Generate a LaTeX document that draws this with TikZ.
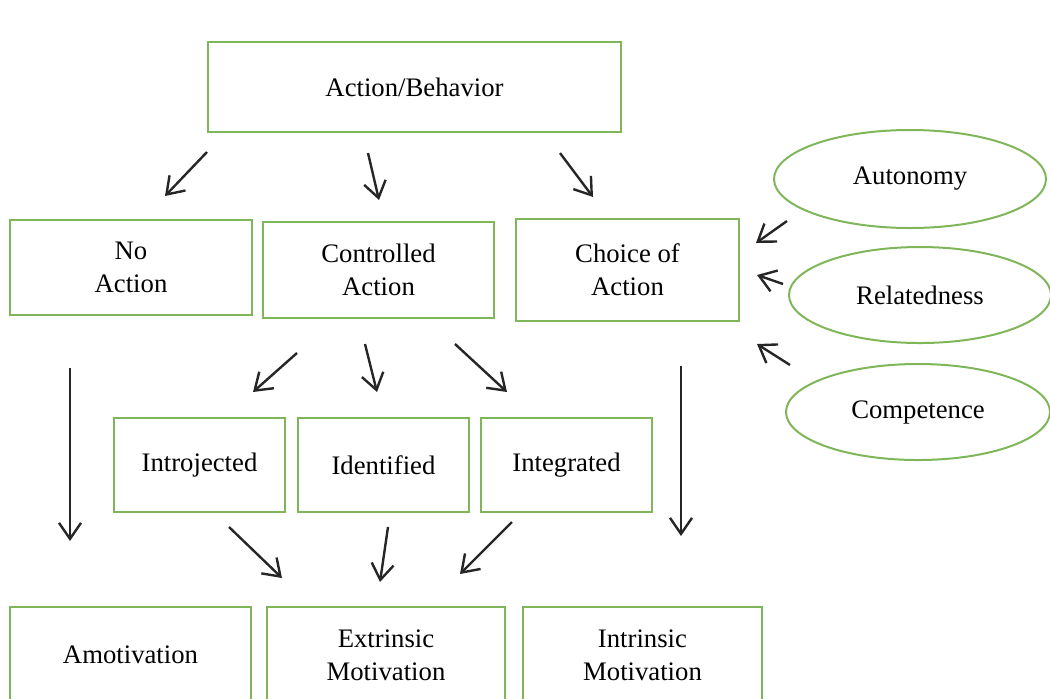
\documentclass[tikz,border=0pt]{standalone}
\usepackage{fontspec}
\setmainfont{Liberation Serif}
\usetikzlibrary{arrows.meta, shapes.geometric}
\definecolor{boxGreen}{RGB}{128,182,90}
\definecolor{arrowBlack}{gray}{0.15}

\begin{document}
\begin{tikzpicture}[x=0.25mm, y=-0.25mm,
    box/.style={draw=boxGreen, line width=0.5mm, inner sep=0pt, align=center,
        font=\fontsize{19}{23.5}\selectfont},
    oval/.style={box, ellipse},
    arr/.style={arrowBlack, line width=0.6mm, -{Straight Barb[length=4mm, width=5.5mm]}}]
    \useasboundingbox (0,0) rectangle (1050,698);

    % top box
    \node[box, minimum width=103.25mm, minimum height=22.5mm] (act) at (414.5,87) {Action/Behavior};

    % first level
    \node[box, minimum width=60.5mm, minimum height=23.75mm] (noact) at (131,267.5) {No\\Action};
    \node[box, minimum width=57.75mm, minimum height=24mm] (ctrl) at (378.5,270) {Controlled\\Action};
    \node[box, minimum width=55.75mm, minimum height=25.5mm] (choice) at (627.5,270) {Choice of\\Action};

    % needs
    \node[oval, minimum width=68mm, minimum height=24.5mm] (auton) at (910,179) {Autonomy};
    \node[oval, minimum width=65.5mm, minimum height=24mm] (relat) at (920,295) {Relatedness};
    \node[oval, minimum width=66mm, minimum height=24mm] (compet) at (918,412) {Competence};

    % regulation types
    \node[box, minimum width=42.75mm, minimum height=23.5mm] (introj) at (199.5,465) {Introjected};
    \node[box, minimum width=42.75mm, minimum height=23.5mm] (ident) at (383.5,465) {Identified};
    \node[box, minimum width=42.75mm, minimum height=23.5mm] (integ) at (566.5,465) {Integrated};

    % outcomes
    \node[box, minimum width=60.25mm, minimum height=24mm] (amot) at (130.5,655) {Amotivation};
    \node[box, minimum width=59.5mm, minimum height=24mm] (extr) at (386,655) {Extrinsic\\Motivation};
    \node[box, minimum width=59.75mm, minimum height=24mm] (intr) at (642.5,655) {Intrinsic\\Motivation};

    % free-standing arrows
    \foreach \n/\tx/\ty/\hx/\hy in {1/207/152/165/196, 2/368/153/379/200, 3/560/153/593/197,
        4/787/221/756/243, 5/783/284/757/275, 6/790/365/757/344,
        7/297/353/253/392, 8/365/344/377/392, 9/455/344/507/392,
        10/70/368/70/541, 11/681/366/681/536,
        12/229/527/282/578, 13/388/527/380/582, 14/512/522/460/574} {
        \coordinate (t\n) at (\tx,\ty);
        \coordinate (h\n) at (\hx,\hy);
        \draw[arr] (t\n) -- (h\n);
    }
\end{tikzpicture}
\end{document}
